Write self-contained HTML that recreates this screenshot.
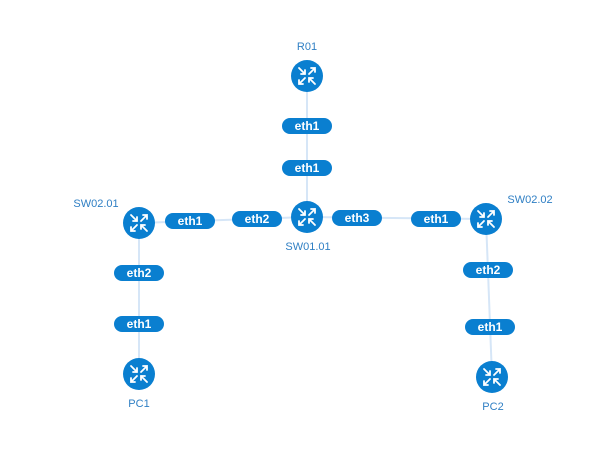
<!DOCTYPE html>
<html><head><style>body{margin:0;background:#fff}svg{display:block}</style></head><body>
<svg width="596" height="454" viewBox="0 0 596 454" xmlns="http://www.w3.org/2000/svg" font-family="Liberation Sans, sans-serif">
<defs>
<g id="ic">
<circle r="16" fill="#0a7fd0"/>
<g stroke="#fff" stroke-width="1.8" fill="none" stroke-linecap="round">
<path d="M-8,-8 L-2,-2 M-2,-6 L-2,-2 L-6,-2"/>
<path d="M2,-2 L8,-8 M4,-8 L8,-8 L8,-4"/>
<path d="M-2,2 L-8,8 M-8,4 L-8,8 L-4,8"/>
<path d="M8,8 L2,2 M2,6 L2,2 L6,2"/>
</g>
</g>
</defs>
<g stroke="#d6e6f7" stroke-width="2">
<line x1="307" y1="76" x2="307" y2="217"/>
<line x1="139" y1="223" x2="307" y2="217"/>
<line x1="307" y1="217" x2="486" y2="219"/>
<line x1="139" y1="223" x2="139" y2="374"/>
<line x1="486" y1="219" x2="492" y2="377"/>
</g>
<g fill="#0a7fd0">
<rect x="282" y="118" width="50" height="16" rx="8"/>
<rect x="282" y="160" width="50" height="16" rx="8"/>
<rect x="165" y="213" width="50" height="16" rx="8"/>
<rect x="232" y="211" width="50" height="16" rx="8"/>
<rect x="332" y="210" width="50" height="16" rx="8"/>
<rect x="411" y="211" width="50" height="16" rx="8"/>
<rect x="114" y="265" width="50" height="16" rx="8"/>
<rect x="114" y="316" width="50" height="16" rx="8"/>
<rect x="463" y="262" width="50" height="16" rx="8"/>
<rect x="465" y="319" width="50" height="16" rx="8"/>
</g>
<g fill="#fff" font-size="12" font-weight="bold" text-anchor="middle">
<text x="307" y="130">eth1</text>
<text x="307" y="172">eth1</text>
<text x="190" y="225">eth1</text>
<text x="257" y="223">eth2</text>
<text x="357" y="222">eth3</text>
<text x="436" y="223">eth1</text>
<text x="139" y="277">eth2</text>
<text x="139" y="328">eth1</text>
<text x="488" y="274">eth2</text>
<text x="490" y="331">eth1</text>
</g>
<use href="#ic" x="307" y="76"/>
<use href="#ic" x="307" y="217"/>
<use href="#ic" x="139" y="223"/>
<use href="#ic" x="486" y="219"/>
<use href="#ic" x="139" y="374"/>
<use href="#ic" x="492" y="377"/>
<g fill="#2f7fc4" font-size="11" text-anchor="middle">
<text x="307" y="50">R01</text>
<text x="308" y="250">SW01.01</text>
<text x="96" y="207">SW02.01</text>
<text x="530" y="203">SW02.02</text>
<text x="139" y="407">PC1</text>
<text x="493" y="410">PC2</text>
</g>
</svg>
</body></html>
